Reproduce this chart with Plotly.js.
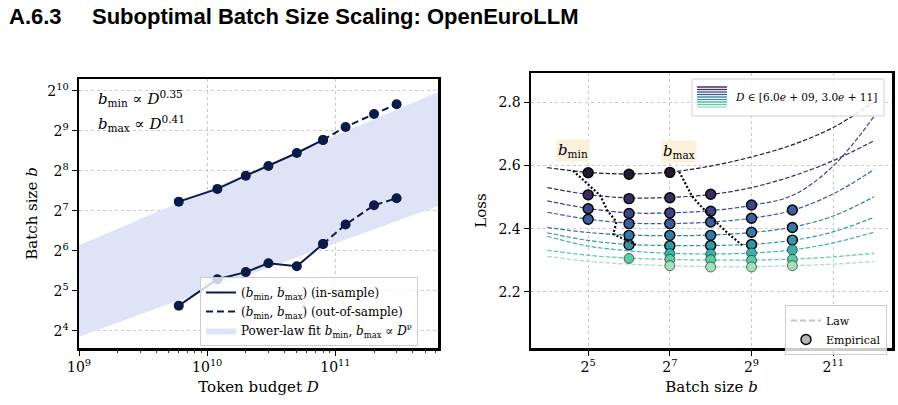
<!DOCTYPE html>
<html><head><meta charset="utf-8">
<script src="https://cdn.plot.ly/plotly-3.0.1.min.js"></script>
<style>html,body{margin:0;padding:0;background:#fff}#chart{width:898px;height:405px}</style>
</head><body><div id="chart"></div>
<script>
// ---------- Left panel data ----------
const tokenBudget = [6e9, 1.2e10, 2e10, 3e10, 5e10, 8e10, 1.2e11, 2e11, 3e11];
const bMin = [24.8, 39.2, 44.3, 51.7, 49.0, 72.0, 101, 141, 159];
const bMax = [150, 187, 235, 278, 348, 436, 546, 683, 809];
const nInSample = 6;
const fitD = [1e9, 6.4e11];
const fitLow = [14.5, 140];
const fitHigh = [70.5, 1005];
const leftYTicks = [16, 32, 64, 128, 256, 512, 1024];
const leftYTickText = ['2<sup>4</sup>','2<sup>5</sup>','2<sup>6</sup>','2<sup>7</sup>','2<sup>8</sup>','2<sup>9</sup>','2<sup>10</sup>'];
const leftXTicks = [1e9, 1e10, 1e11];
const leftXTickText = ['10<sup>9</sup>','10<sup>10</sup>','10<sup>11</sup>'];

// ---------- Right panel data ----------
const lawBatch = [16, 32, 64, 128, 256, 512, 1024, 2048, 4096];
const lawLoss = [
  [2.593, 2.578, 2.573, 2.579, 2.598, 2.627, 2.665, 2.720, 2.800],
  [2.530, 2.508, 2.497, 2.499, 2.508, 2.530, 2.566, 2.615, 2.678],
  [2.488, 2.464, 2.450, 2.450, 2.457, 2.474, 2.505, 2.598, 2.755],
  [2.452, 2.430, 2.418, 2.416, 2.421, 2.433, 2.458, 2.510, 2.587],
  [2.404, 2.388, 2.380, 2.378, 2.380, 2.388, 2.405, 2.440, 2.501],
  [2.387, 2.363, 2.350, 2.347, 2.347, 2.351, 2.363, 2.390, 2.436],
  [2.376, 2.345, 2.330, 2.322, 2.320, 2.323, 2.333, 2.355, 2.389],
  [2.332, 2.316, 2.307, 2.303, 2.301, 2.301, 2.304, 2.311, 2.322],
  [2.313, 2.297, 2.288, 2.283, 2.280, 2.280, 2.283, 2.288, 2.296]
];
const empBatch = [
  [32, 64, 128],
  [32, 64, 128, 256],
  [32, 64, 128, 256, 512],
  [32, 64, 128, 256, 512, 1024],
  [64, 128, 256, 512, 1024],
  [64, 128, 256, 512, 1024],
  [128, 256, 512, 1024],
  [64, 128, 256, 512, 1024],
  [128, 256, 512, 1024]
];
const empLoss = [
  [2.577, 2.572, 2.578],
  [2.507, 2.495, 2.498, 2.509],
  [2.463, 2.448, 2.450, 2.455, 2.475],
  [2.430, 2.416, 2.416, 2.421, 2.433, 2.459],
  [2.379, 2.379, 2.379, 2.389, 2.404],
  [2.349, 2.346, 2.347, 2.350, 2.364],
  [2.321, 2.320, 2.323, 2.333],
  [2.306, 2.303, 2.302, 2.300, 2.303],
  [2.283, 2.279, 2.279, 2.283]
];
const bMinLoss = [2.583, 2.505, 2.458, 2.421, 2.383, 2.349];
const bMaxLoss = [2.580, 2.502, 2.455, 2.422, 2.383, 2.348];
const rightXTicks = [32, 128, 512, 2048];
const rightXTickText = ['2<sup>5</sup>','2<sup>7</sup>','2<sup>9</sup>','2<sup>11</sup>'];
const palette = ['#221a2e', '#3a2c5d', '#41438a', '#3c5e9f', '#3679a4', '#3396a8', '#3bb2a9', '#5ccaa4', '#a4deba'];
const navy = '#0c1a4a';
const FONT = 'DejaVu Serif';

const traces = [];
// power-law band
traces.push({x: fitD, y: fitLow, mode: 'lines', line: {width: 0}, showlegend: false, hoverinfo: 'skip', xaxis: 'x', yaxis: 'y'});
traces.push({x: fitD, y: fitHigh, mode: 'lines', line: {width: 0}, fill: 'tonexty', fillcolor: 'rgb(222,228,245)',
  name: 'Power-law fit <i>b</i><sub>min</sub>, <i>b</i><sub>max</sub> ∝ <i>D</i><sup>ν</sup>', legend: 'legend', legendrank: 3, xaxis: 'x', yaxis: 'y'});
// b series
[bMax, bMin].forEach(arr => {
  traces.push({x: tokenBudget.slice(0, nInSample), y: arr.slice(0, nInSample), mode: 'lines+markers',
    line: {color: navy, width: 2}, marker: {color: navy, size: 10}, showlegend: false, xaxis: 'x', yaxis: 'y'});
  traces.push({x: tokenBudget.slice(nInSample - 1), y: arr.slice(nInSample - 1), mode: 'lines+markers',
    line: {color: navy, width: 2, dash: '7px,4px'}, marker: {color: navy, size: 10}, showlegend: false, xaxis: 'x', yaxis: 'y'});
});
traces.push({x: [null], y: [null], mode: 'lines', line: {color: navy, width: 2},
  name: '(<i>b</i><sub>min</sub>, <i>b</i><sub>max</sub>) (in-sample)', legend: 'legend', legendrank: 1, xaxis: 'x', yaxis: 'y'});
traces.push({x: [null], y: [null], mode: 'lines', line: {color: navy, width: 2, dash: '7px,4px'},
  name: '(<i>b</i><sub>min</sub>, <i>b</i><sub>max</sub>) (out-of-sample)', legend: 'legend', legendrank: 2, xaxis: 'x', yaxis: 'y'});

// right: law curves
lawLoss.forEach((ys, i) => {
  traces.push({x: lawBatch, y: ys, mode: 'lines', line: {color: palette[i], width: 1.2, dash: '4.5px,2px', shape: 'spline', smoothing: 1},
    showlegend: false, xaxis: 'x2', yaxis: 'y2'});
});
// empirical points
empLoss.forEach((ys, i) => {
  const oos = i >= nInSample;
  traces.push({x: empBatch[i], y: ys, mode: 'markers',
    marker: {color: palette[i], size: 10, line: {color: oos ? 'rgba(0,0,0,0.55)' : '#000', width: oos ? 1 : 1.4}},
    showlegend: false, xaxis: 'x2', yaxis: 'y2'});
});
// b_min / b_max paths
traces.push({x: bMin.slice(0, nInSample), y: bMinLoss, mode: 'lines', line: {color: '#000', width: 2.2, dash: '2px,2px'}, showlegend: false, xaxis: 'x2', yaxis: 'y2'});
traces.push({x: bMax.slice(0, nInSample), y: bMaxLoss, mode: 'lines', line: {color: '#000', width: 2.2, dash: '2px,2px'}, showlegend: false, xaxis: 'x2', yaxis: 'y2'});
// right legend entries
traces.push({x: [null], y: [null], mode: 'lines', line: {color: '#c4c4c4', width: 2, dash: '6px,3px'}, name: 'Law', legend: 'legend2', xaxis: 'x2', yaxis: 'y2'});
traces.push({x: [null], y: [null], mode: 'markers', marker: {color: '#b5b5b5', size: 10, line: {color: '#000', width: 1.4}}, name: 'Empirical', legend: 'legend2', xaxis: 'x2', yaxis: 'y2'});

const W = 898, H = 405;
const px = v => v / W, py = v => 1 - v / H;

const axCommon = {showline: true, linecolor: '#000', linewidth: 2.5, mirror: true, ticks: 'outside', ticklen: 5, tickwidth: 1, tickcolor: '#000',
  showgrid: true, gridcolor: '#bdbdbd', griddash: 'dot', gridwidth: 0.8, zeroline: false, tickfont: {family: FONT, size: 14, color: '#000'}};

const shapes = [];
// colormap legend box
shapes.push({type: 'rect', xref: 'paper', yref: 'paper', x0: px(692), x1: px(884), y0: py(116), y1: py(79),
  fillcolor: 'rgba(255,255,255,0.85)', line: {color: '#cfcfcf', width: 1}, layer: 'above'});
palette.forEach((c, i) => {
  const yy = 87 + i * 2.5;
  shapes.push({type: 'line', xref: 'paper', yref: 'paper', x0: px(697), x1: px(727), y0: py(yy), y1: py(yy), line: {color: c, width: 1.3}, layer: 'above'});
});

const annotations = [
  {xref: 'paper', yref: 'paper', x: px(7), y: py(17), xanchor: 'left', yanchor: 'middle', showarrow: false,
    text: '<b>A.6.3</b>', font: {family: 'Liberation Sans', size: 22, color: '#000'}},
  {xref: 'paper', yref: 'paper', x: px(90), y: py(17), xanchor: 'left', yanchor: 'middle', showarrow: false,
    text: '<b>Suboptimal Batch Size Scaling: OpenEuroLLM</b>', font: {family: 'Liberation Sans', size: 22, color: '#000'}},
  {xref: 'paper', yref: 'paper', x: px(96), y: py(98), xanchor: 'left', yanchor: 'middle', showarrow: false,
    text: '<i>b</i><sub>min</sub> ∝ <i>D</i><sup>0.35</sup>', font: {family: FONT, size: 15, color: '#000'}},
  {xref: 'paper', yref: 'paper', x: px(96), y: py(123), xanchor: 'left', yanchor: 'middle', showarrow: false,
    text: '<i>b</i><sub>max</sub> ∝ <i>D</i><sup>0.41</sup>', font: {family: FONT, size: 15, color: '#000'}},
  {xref: 'x2', yref: 'y2', x: Math.log10(bMin[0]), y: bMinLoss[0], yshift: 20, showarrow: false,
    text: '<i>b</i><sub>min</sub>', bgcolor: '#fbf0dc', borderpad: 1, font: {family: FONT, size: 15, color: '#000'}},
  {xref: 'x2', yref: 'y2', x: Math.log10(bMax[0]), y: bMaxLoss[0], yshift: 20, showarrow: false,
    text: '<i>b</i><sub>max</sub>', bgcolor: '#fbf0dc', borderpad: 1, font: {family: FONT, size: 15, color: '#000'}},
  {xref: 'paper', yref: 'paper', x: px(879), y: py(97.5), xanchor: 'right', yanchor: 'middle', showarrow: false,
    text: '<i>D</i> ∈ [6.0<i>e</i> + 09, 3.0<i>e</i> + 11]', font: {family: FONT, size: 10.5, color: '#000'}}
];

const layout = {
  width: W, height: H, margin: {l: 0, r: 0, t: 0, b: 0}, paper_bgcolor: '#fff', plot_bgcolor: '#fff',
  font: {family: FONT, color: '#000'},
  xaxis: Object.assign({}, axCommon, {domain: [px(79), px(438)], type: 'log', range: [9, 11.80], anchor: 'y',
    tickmode: 'array', tickvals: leftXTicks, ticktext: leftXTickText,
    minor: {tickmode: 'array', tickvals: [2e9,3e9,4e9,5e9,6e9,7e9,8e9,9e9,2e10,3e10,4e10,5e10,6e10,7e10,8e10,9e10,2e11,3e11,4e11,5e11,6e11],
      ticks: 'outside', ticklen: 2.5, tickwidth: 0.8, tickcolor: '#000', showgrid: false},
    title: {text: 'Token budget <i>D</i>', font: {family: FONT, size: 15, color: '#000'}, standoff: 7}}),
  yaxis: Object.assign({}, axCommon, {domain: [1 - 348 / H, 1 - 79 / H], type: 'log', range: [Math.log10(Math.pow(2, 3.575)), Math.log10(Math.pow(2, 10.29))], anchor: 'x',
    tickmode: 'array', tickvals: leftYTicks, ticktext: leftYTickText,
    title: {text: 'Batch size <i>b</i>', font: {family: FONT, size: 15, color: '#000'}, standoff: 6}}),
  xaxis2: Object.assign({}, axCommon, {domain: [px(531), px(892)], type: 'log', range: [Math.log10(Math.pow(2, 3.6)), Math.log10(Math.pow(2, 12.44))], anchor: 'y2',
    tickmode: 'array', tickvals: rightXTicks, ticktext: rightXTickText,
    title: {text: 'Batch size <i>b</i>', font: {family: FONT, size: 15, color: '#000'}, standoff: 7}}),
  yaxis2: Object.assign({}, axCommon, {domain: [1 - 348 / H, 1 - 73 / H], range: [2.023, 2.892], anchor: 'x2',
    tickmode: 'array', tickvals: [2.2, 2.4, 2.6, 2.8], ticktext: ['2.2', '2.4', '2.6', '2.8'],
    title: {text: 'Loss', font: {family: FONT, size: 15, color: '#000'}, standoff: 8}}),
  legend: {x: px(200), y: py(277), xanchor: 'left', yanchor: 'top', bgcolor: 'rgba(255,255,255,0.8)', bordercolor: '#cccccc', borderwidth: 1,
    font: {family: FONT, size: 12, color: '#000'}, itemwidth: 30, tracegroupgap: 0, traceorder: 'normal'},
  legend2: {x: px(785), y: py(305), xanchor: 'left', yanchor: 'top', bgcolor: 'rgba(255,255,255,0.8)', bordercolor: '#cccccc', borderwidth: 1,
    font: {family: FONT, size: 11, color: '#000'}, itemwidth: 30, traceorder: 'normal'},
  shapes: shapes,
  annotations: annotations,
  showlegend: true
};

Plotly.newPlot('chart', traces, layout, {displayModeBar: false, staticPlot: true});
</script></body></html>
